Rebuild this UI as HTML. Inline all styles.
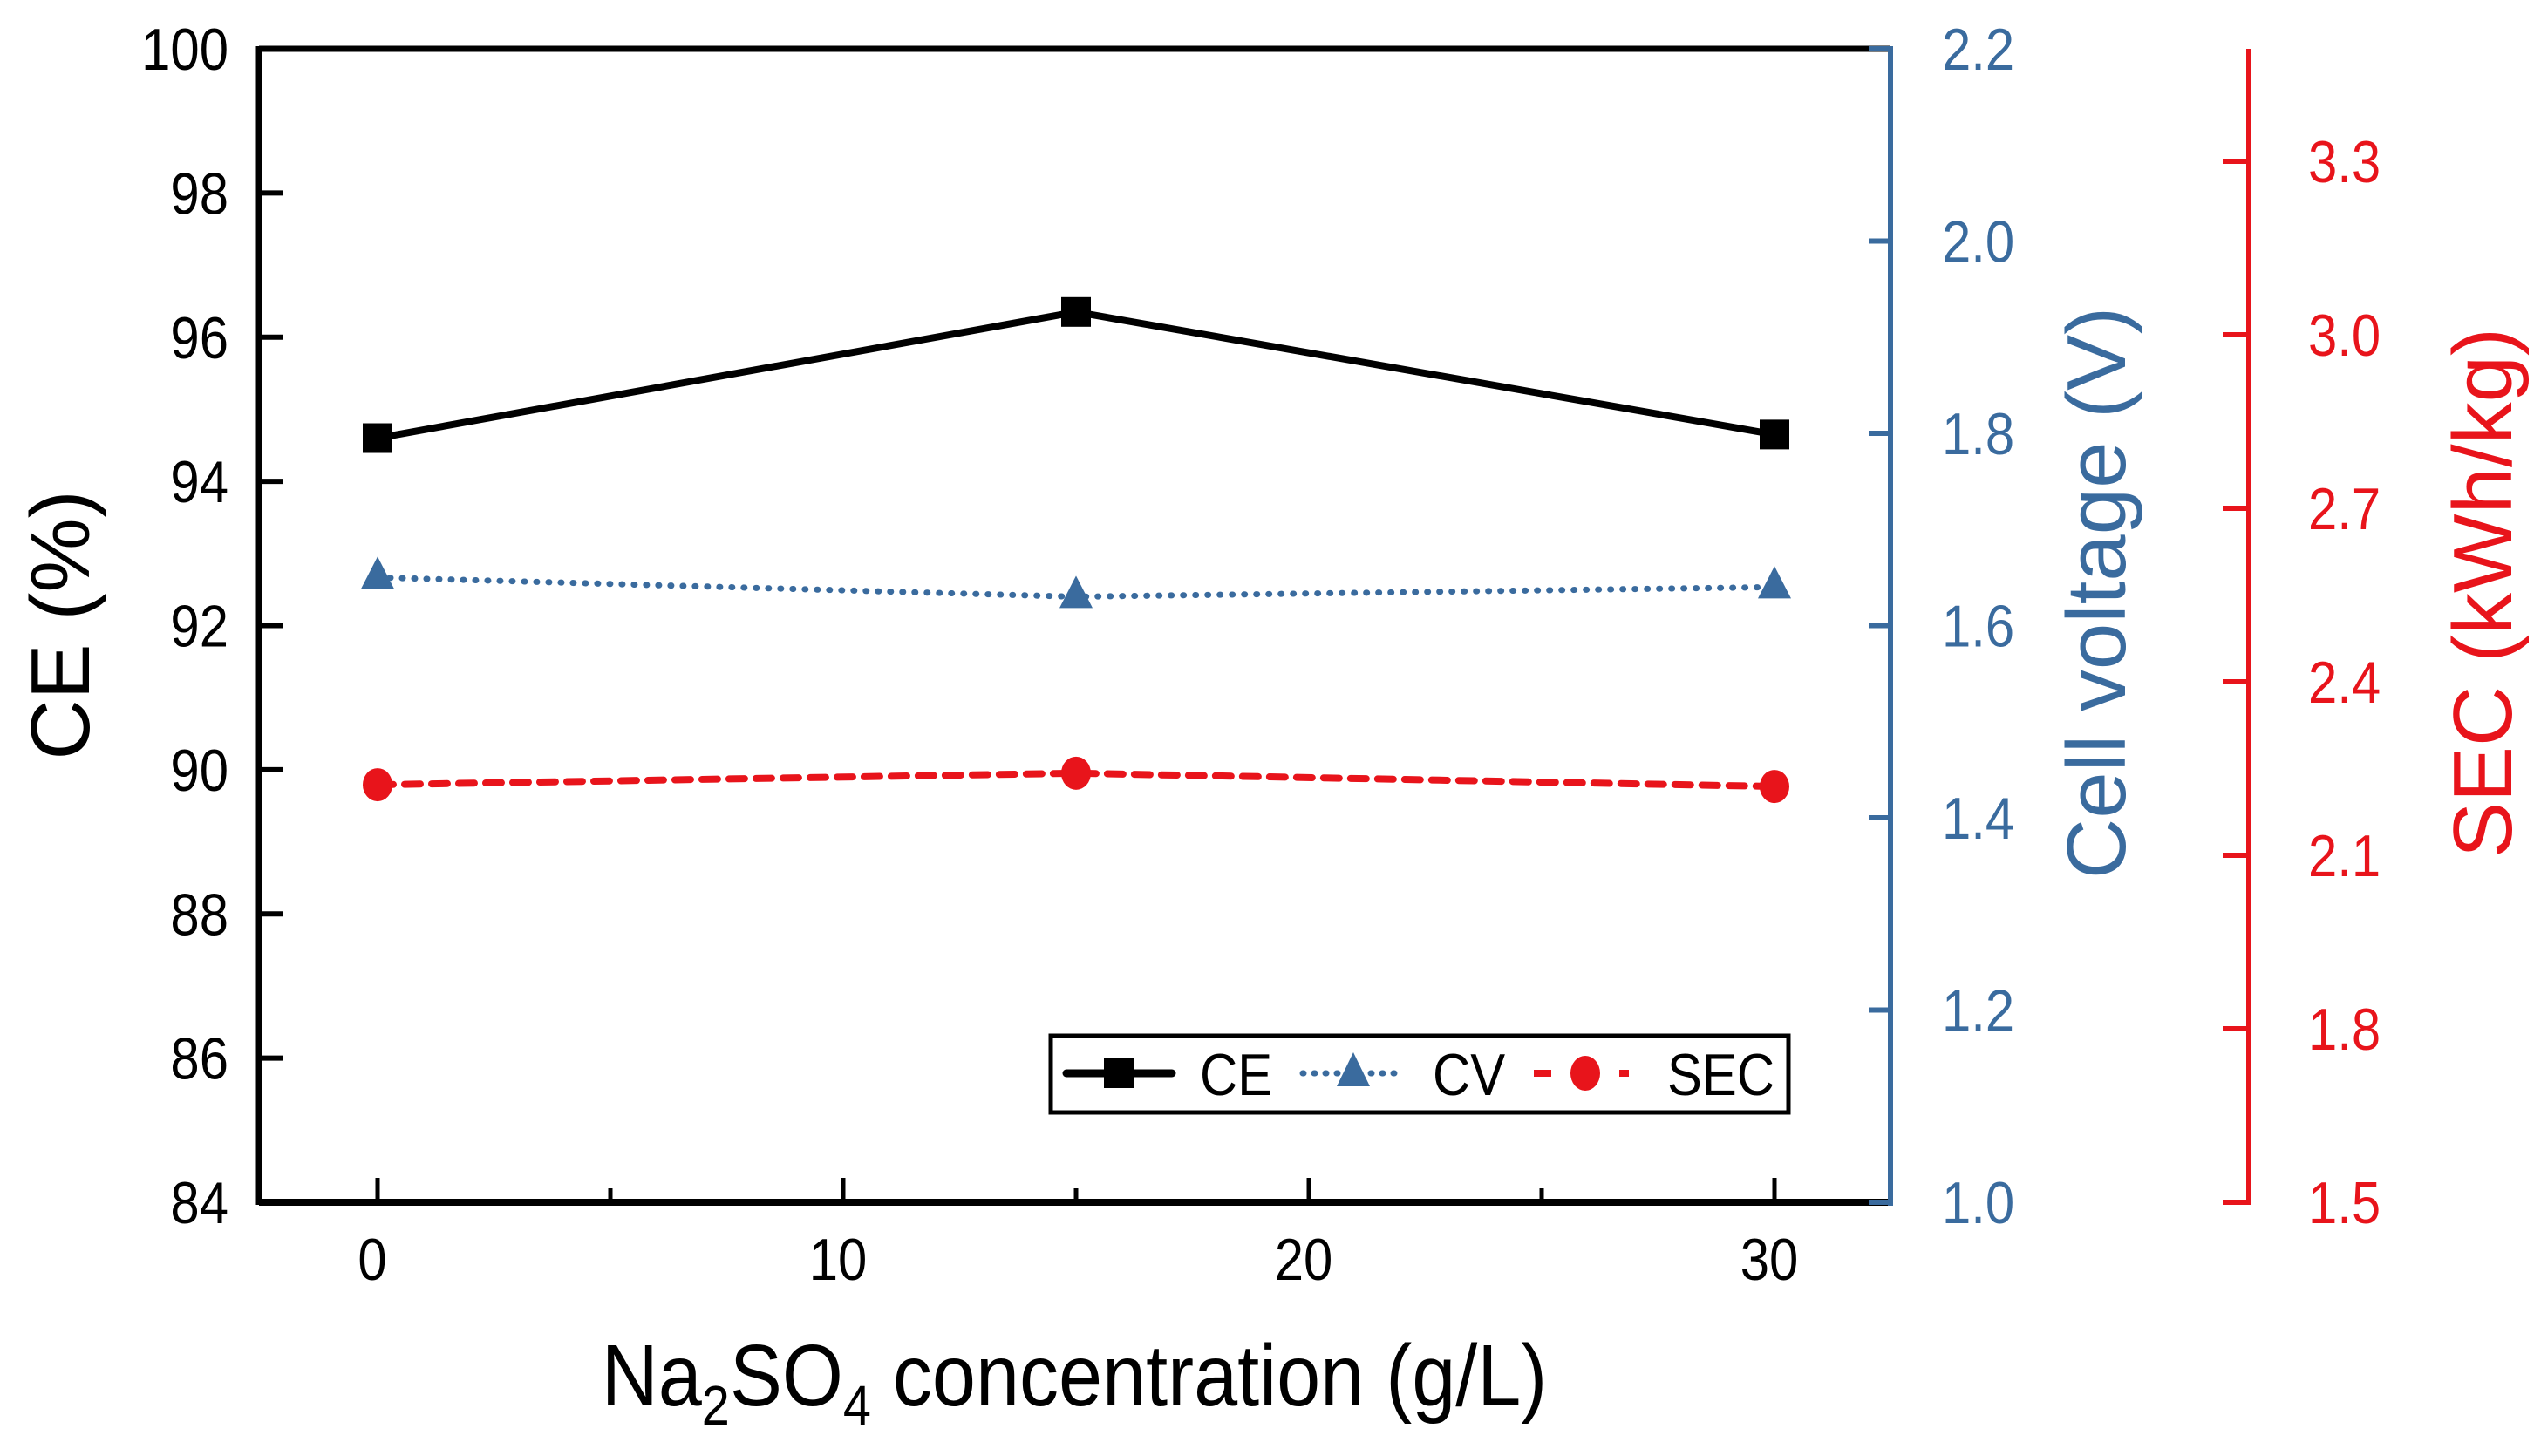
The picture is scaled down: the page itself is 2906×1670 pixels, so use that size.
<!DOCTYPE html>
<html><head><meta charset="utf-8"><style>
html,body{margin:0;padding:0;background:#fff;}
svg{display:block;font-family:"Liberation Sans",Arial,sans-serif;}
</style></head><body>
<svg id="chart" width="2906" height="1670" viewBox="0 0 2906 1670" xmlns="http://www.w3.org/2000/svg">
<g id="axes"></g>
<g id="series"></g>
<g id="legend"></g>
</svg>
<script>
const categories = [0, 15, 30];
const ceValues = [94.6, 96.35, 94.65];
const cvValues = [1.65, 1.63, 1.64];
const secValues = [2.222, 2.242, 2.219];
const xTicks = [0, 10, 20, 30];
const xMinorTicks = [5, 15, 25];
const ceTicks = [84, 86, 88, 90, 92, 94, 96, 98, 100];
const cvTicks = [1.0, 1.2, 1.4, 1.6, 1.8, 2.0, 2.2];
const secTicks = [1.5, 1.8, 2.1, 2.4, 2.7, 3.0, 3.3];

const NS = "http://www.w3.org/2000/svg";
const L = 297, R = 2168, T = 56, B = 1379, RED = 2579;
const BLUE = "#3a6b9e", REDC = "#e8141b";
const xs = v => 433 + (v - 0) * (2035 - 433) / 30;
const yCE = v => B - (v - 84) * (B - T) / 16;
const yCV = v => B - (v - 1.0) * (B - T) / 1.2;
const ySEC = v => B - (v - 1.5) * 663.3;

function mk(tag, attrs, parent, text) {
  const e = document.createElementNS(NS, tag);
  for (const k in attrs) e.setAttribute(k, attrs[k]);
  if (text !== undefined) e.textContent = text;
  parent.appendChild(e);
  return e;
}
const axes = document.getElementById('axes');
const ser = document.getElementById('series');
const leg = document.getElementById('legend');

let e;
e = mk('line', {x1: L, y1: T, x2: R, y2: T, stroke: '#000', 'stroke-width': 7}, axes);
 
e = mk('line', {x1: L, y1: T - 3, x2: L, y2: B + 3, stroke: '#000', 'stroke-width': 7}, axes);
 
e = mk('line', {x1: L, y1: B, x2: R, y2: B, stroke: '#000', 'stroke-width': 8}, axes);
 
e = mk('line', {x1: R, y1: T - 3, x2: R, y2: B + 4, stroke: BLUE, 'stroke-width': 6}, axes);
 
e = mk('line', {x1: RED, y1: T, x2: RED, y2: B + 3, stroke: REDC, 'stroke-width': 6}, axes);
 

function label(x, y, txt, size, anchor, fill, name) {
  const lb = mk('text', {x: 0, y: 0, 'font-size': size, 'text-anchor': anchor, fill: fill, transform: `translate(${x},${y}) scale(0.88,1)`}, axes, txt);
  
  
  return lb;
}

ceTicks.forEach(v => {
  const y = yCE(v);
  if (v !== 84 && v !== 100) {
    const t = mk('line', {x1: L, y1: y, x2: L + 28, y2: y, stroke: '#000', 'stroke-width': 6}, axes);
     
  }
  label(262, y + 24, String(v), 68, 'end', '#000', 'ce-tick-label');
});
xTicks.forEach(v => {
  const x = xs(v);
  const t = mk('line', {x1: x, y1: B, x2: x, y2: B - 28, stroke: '#000', 'stroke-width': 5}, axes);
   
  label(x - 6, 1468, String(v), 68, 'middle', '#000', 'x-tick-label');
});
xMinorTicks.forEach(v => {
  const x = xs(v);
  const t = mk('line', {x1: x, y1: B, x2: x, y2: B - 16, stroke: '#000', 'stroke-width': 5}, axes);
   
});
cvTicks.forEach(v => {
  const y = yCV(v);
  const t = mk('line', {x1: R, y1: y, x2: R - 25, y2: y, stroke: BLUE, 'stroke-width': 6}, axes);
   
  label(2227, y + 24, v.toFixed(1), 68, 'start', BLUE, 'cv-tick-label');
});
secTicks.forEach(v => {
  const y = ySEC(v);
  const t = mk('line', {x1: RED, y1: y, x2: RED - 30, y2: y, stroke: REDC, 'stroke-width': 6}, axes);
   
  label(2647, y + 24, v.toFixed(1), 68, 'start', REDC, 'sec-tick-label');
});

e = mk('text', {x: 0, y: 0, 'font-size': 96, 'text-anchor': 'middle', fill: '#000', transform: 'translate(102,717) rotate(-90)'}, axes, 'CE (%)');
 
e = mk('text', {x: 0, y: 0, 'font-size': 96, 'text-anchor': 'middle', fill: BLUE, transform: 'translate(2437,680) rotate(-90)'}, axes, 'Cell voltage (V)');
 
e = mk('text', {x: 0, y: 0, 'font-size': 96, 'text-anchor': 'middle', fill: REDC, transform: 'translate(2880,680) rotate(-90)'}, axes, 'SEC (kWh/kg)');
 
e = mk('text', {x: 0, y: 0, 'font-size': 100, 'text-anchor': 'middle', fill: '#000', transform: 'translate(1232,1612) scale(0.9,1)'}, axes);
 
e.innerHTML = 'Na<tspan font-size="64" dy="22">2</tspan><tspan dy="-22">SO</tspan><tspan font-size="64" dy="22">4</tspan><tspan dy="-22"> concentration (g/L)</tspan>';

function poly(vals, yf, color, dash, w, cap, name) {
  const pts = categories.map((c, i) => xs(c) + ',' + yf(vals[i])).join(' ');
  const p = mk('polyline', {points: pts, fill: 'none', stroke: color, 'stroke-width': w, 'stroke-dasharray': dash || 'none', 'stroke-linecap': cap}, ser);
  
  
}
poly(ceValues, yCE, '#000', null, 8, 'butt', 'ce-line');
poly(cvValues, yCV, BLUE, '1 13', 7, 'round', 'cv-line');
poly(secValues, ySEC, REDC, '18 13', 8, 'round', 'sec-line');
categories.forEach((c, i) => {
  const x = xs(c);
  let m = mk('rect', {x: x - 17, y: yCE(ceValues[i]) - 17, width: 34, height: 34, fill: '#000'}, ser);
   
  const y2 = yCV(cvValues[i]);
  m = mk('polygon', {points: `${x},${y2 - 24} ${x - 19},${y2 + 13} ${x + 19},${y2 + 13}`, fill: BLUE}, ser);
   
  m = mk('ellipse', {cx: x, cy: ySEC(secValues[i]), rx: 17, ry: 19, fill: REDC}, ser);
   
});

e = mk('rect', {x: 1205, y: 1188, width: 846, height: 88, fill: '#fff', stroke: '#000', 'stroke-width': 5}, leg);
 
const ly = 1231;
function ltext(x, txt, name) {
  const t = mk('text', {x: 0, y: 0, 'font-size': 68, transform: `translate(${x},${ly + 25}) scale(0.88,1)`}, leg, txt);
  
  
}
e = mk('line', {x1: 1223, y1: ly, x2: 1344, y2: ly, stroke: '#000', 'stroke-width': 9, 'stroke-linecap': 'round'}, leg);
 
e = mk('rect', {x: 1266, y: ly - 17, width: 34, height: 34, fill: '#000'}, leg);
 
ltext(1376, 'CE', 'legend-ce-label');
e = mk('line', {x1: 1494, y1: ly, x2: 1601, y2: ly, stroke: BLUE, 'stroke-width': 7, 'stroke-dasharray': '1 12', 'stroke-linecap': 'round'}, leg);
 
e = mk('polygon', {points: `1552,${ly - 24} 1533,${ly + 15} 1571,${ly + 15}`, fill: BLUE}, leg);
 
ltext(1643, 'CV', 'legend-cv-label');
e = mk('line', {x1: 1759, y1: ly, x2: 1868, y2: ly, stroke: REDC, 'stroke-width': 8, 'stroke-dasharray': '20 29'}, leg);
 
e = mk('ellipse', {cx: 1818, cy: ly, rx: 17, ry: 20, fill: REDC}, leg);
 
ltext(1912, 'SEC', 'legend-sec-label');
</script>
</body></html>
